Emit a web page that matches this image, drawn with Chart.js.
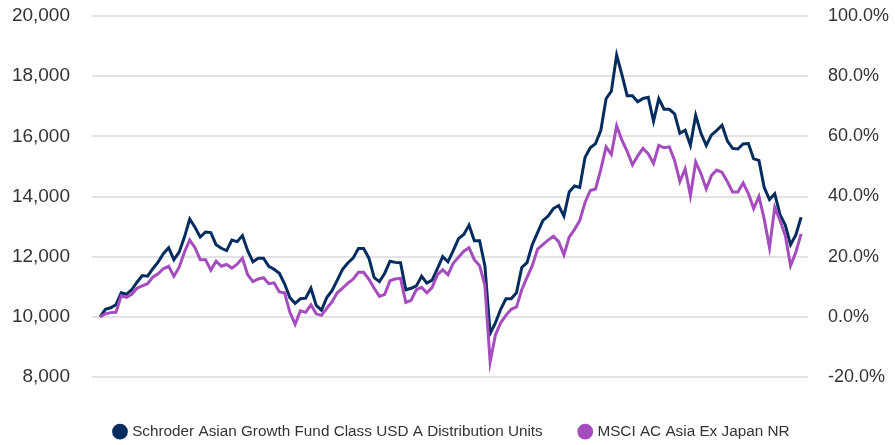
<!DOCTYPE html>
<html>
<head>
<meta charset="utf-8">
<script src="https://cdn.jsdelivr.net/npm/chart.js@4.4.1/dist/chart.umd.min.js"></script>
<style>
  html, body { margin: 0; padding: 0; background: #fff; }
  #wrap { width: 895px; height: 445px; }
</style>
</head>
<body>
<div id="wrap"><canvas id="chart"></canvas></div>
<script>
// fortnightly observations, starting 26 May 2017
const startDate = '2017-05-26';
const stepDays = 14;

const seriesNames = [
  'Schroder Asian Growth Fund Class USD A Distribution Units',
  'MSCI AC Asia Ex Japan NR'
];

const fundValues = [
  10000, 10250, 10300, 10400, 10800, 10750, 10900, 11150, 11370, 11350,
  11600, 11820, 12100, 12300, 11900, 12150, 12650, 13250, 12980, 12650,
  12820, 12800, 12400, 12280, 12200, 12550, 12500, 12700, 12200, 11830,
  11950, 11950, 11680, 11580, 11450, 11100, 10640, 10450, 10600, 10620,
  10950, 10380, 10220, 10640, 10870, 11220, 11580, 11790, 11950, 12270,
  12270, 11950, 11300, 11170, 11450, 11850, 11810, 11800, 10900, 10950,
  11030, 11350, 11120, 11220, 11600, 12000, 11830, 12200, 12600, 12740,
  13050, 12530, 12530, 11700, 9450, 9800, 10250, 10600, 10600, 10800,
  11640, 11800, 12400, 12800, 13200, 13350, 13600, 13700, 13350, 14150,
  14350, 14300, 15300, 15620, 15760, 16200, 17250, 17500, 18700, 18050,
  17350, 17350, 17150, 17260, 17300, 16500, 17250, 16900, 16900, 16750,
  16100, 16200, 15700, 16700, 16100, 15700, 16050, 16200, 16370, 15850,
  15600, 15580, 15750, 15760, 15250, 15200, 14300, 13900, 14090, 13400,
  13050, 12400, 12720, 13310
];

const indexValues = [
  10000, 10100, 10140, 10150, 10700, 10650, 10750, 10950, 11030, 11100,
  11320, 11430, 11600, 11680, 11350, 11650, 12150, 12550, 12300, 11900,
  11900, 11550, 11850, 11680, 11740, 11620, 11750, 11950, 11400, 11170,
  11260, 11300, 11100, 11130, 10830, 10800, 10150, 9750, 10200, 10150,
  10400, 10100, 10050, 10280, 10500, 10800, 10950, 11120, 11250, 11480,
  11480, 11250, 10950, 10680, 10750, 11200, 11260, 11280, 10480, 10550,
  10900, 10980, 10800, 10980, 11400, 11560, 11400, 11780, 11980, 12180,
  12300, 11900, 11700, 11050, 8500, 9400, 9800, 10050, 10250, 10330,
  10900, 11310, 11700, 12250, 12400, 12550, 12680, 12500, 12060, 12650,
  12900, 13200, 13800, 14200, 14250, 14900, 15650, 15400, 16350, 15870,
  15500, 15050, 15350, 15600, 15420, 15100, 15700, 15620, 15650, 15200,
  14500, 14920, 14030, 15150, 14760, 14250, 14700, 14880, 14800, 14500,
  14150, 14150, 14450, 14100, 13600, 14000, 13250, 12300, 13640, 13200,
  12700, 11700, 12150, 12760
];

const tickYears = [2018, 2019, 2020, 2021, 2022];
const tickLabels = ['Jan-18', 'Jan-19', 'Jan-20', 'Jan-21', 'Jan-22'];
const leftTicks = [8000, 10000, 12000, 14000, 16000, 18000, 20000];
const rightTicks = [-20, 0, 20, 40, 60, 80, 100];

const colors = ['#042c5f', '#a54cbf'];
const fontFamily = '"Liberation Sans", Arial, sans-serif';
const textColor = '#333333';

function toYear(i) {
  const t = Date.parse(startDate) + i * stepDays * 864e5;
  const y0 = Date.UTC(2017, 0, 1);
  return 2017 + (t - y0) / (365.25 * 864e5);
}

function points(values) {
  return values.map((v, i) => ({ x: toYear(i), y: v }));
}

// keep the legend compact even with wide item spacing, and nudge it right
const legendFit = {
  id: 'legendFit',
  beforeLayout(chart) {
    const lg = chart.legend;
    if (lg && !lg._fitPatched) {
      const orig = lg.fit;
      lg.fit = function() { orig.call(this); this.height = 59; };
      lg._fitPatched = true;
    }
  },
  afterLayout(chart) {
    const lg = chart.legend;
    if (lg) { lg.left += 5; lg.right += 5; }
  }
};

// tick padding must not push the plot area down
function noVPad(axis) { axis.paddingTop = 0; axis.paddingBottom = 0; }

new Chart(document.getElementById('chart'), {
  type: 'line',
  data: {
    datasets: [
      {
        label: seriesNames[0],
        data: points(fundValues),
        borderColor: colors[0], backgroundColor: colors[0],
        borderWidth: 3, pointRadius: 0, tension: 0, yAxisID: 'y', order: 1
      },
      {
        label: seriesNames[1],
        data: points(indexValues),
        borderColor: colors[1], backgroundColor: colors[1],
        borderWidth: 3, pointRadius: 0, tension: 0, yAxisID: 'y', order: 0
      }
    ]
  },
  options: {
    responsive: true, maintainAspectRatio: false, animation: false,
    layout: { padding: { left: 0, right: 0, top: 16, bottom: 0 } },
    plugins: {
      tooltip: { enabled: false },
      legend: {
        position: 'bottom',
        labels: {
          usePointStyle: true, pointStyle: 'circle', boxWidth: 9, boxHeight: 9,
          padding: 38, color: textColor,
          font: { family: fontFamily, size: 15.3 },
          sort: (a, b) => a.datasetIndex - b.datasetIndex
        }
      }
    },
    scales: {
      x: {
        type: 'linear', min: 2017.338, max: 2022.545,
        grid: { display: false, drawTicks: false },
        border: { display: false },
        afterBuildTicks: axis => { axis.ticks = tickYears.map(v => ({ value: v })); },
        afterFit: axis => { axis.height = 9; },
        ticks: {
          padding: 13, color: textColor, maxRotation: 0, autoSkip: false,
          font: { family: fontFamily, size: 18 },
          callback: v => tickLabels[tickYears.indexOf(v)]
        }
      },
      y: {
        position: 'left', min: 8000, max: 20000,
        afterBuildTicks: axis => { axis.ticks = leftTicks.map(v => ({ value: v })); },
        afterFit: axis => { axis.width = 92; noVPad(axis); },
        grid: { color: '#e3e3e3', lineWidth: 2, drawTicks: false },
        border: { display: false },
        ticks: {
          padding: 22, color: textColor,
          font: { family: fontFamily, size: 19 },
          callback: v => v.toLocaleString('en-US')
        }
      },
      y1: {
        position: 'right', min: -20, max: 100,
        afterBuildTicks: axis => { axis.ticks = rightTicks.map(v => ({ value: v })); },
        afterFit: axis => { axis.width = 87; noVPad(axis); },
        grid: { display: false, drawTicks: false },
        border: { display: false },
        ticks: {
          padding: 20, color: textColor,
          font: { family: fontFamily, size: 18 },
          callback: v => v.toFixed(1) + '%'
        }
      }
    }
  },
  plugins: [legendFit]
});
</script>
</body>
</html>
